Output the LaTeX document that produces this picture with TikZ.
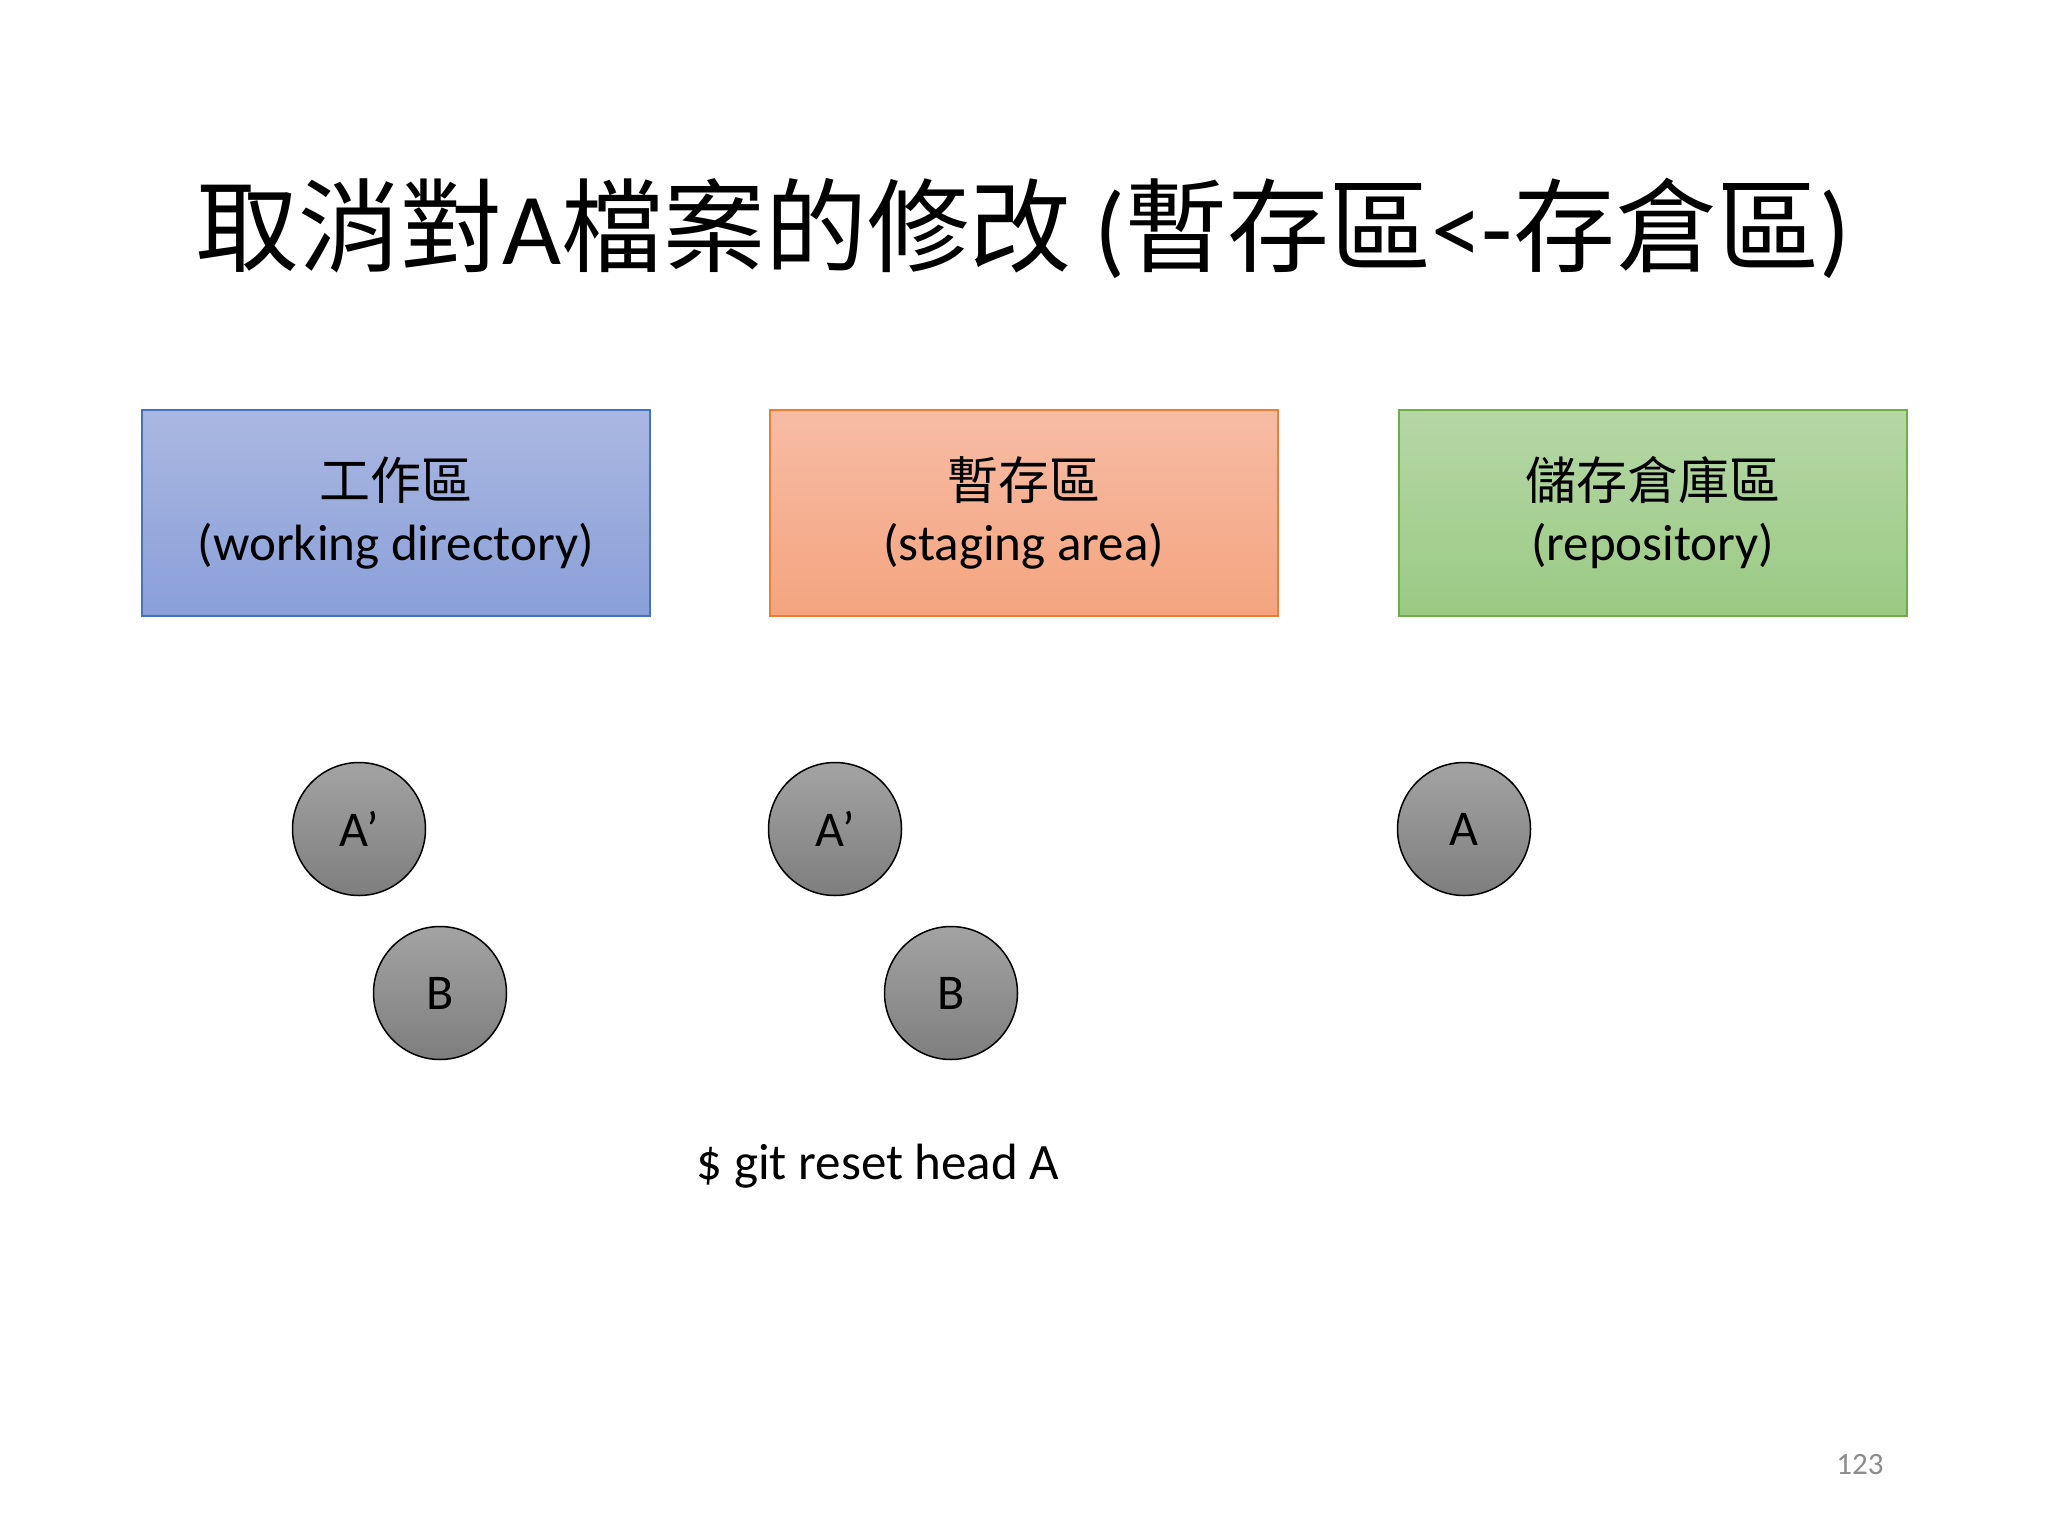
\documentclass[tikz,border=0pt]{standalone}
\usepackage{fontspec}
\setmainfont{Carlito}
\newfontfamily\cjk{Noto Sans CJK TC}
\definecolor{wdtop}{HTML}{AAB7E1}
\definecolor{wdbot}{HTML}{8AA0D9}
\definecolor{wdline}{HTML}{4472C4}
\definecolor{sttop}{HTML}{F7BCA5}
\definecolor{stbot}{HTML}{F4A47F}
\definecolor{stline}{HTML}{ED7D31}
\definecolor{rptop}{HTML}{B5D7A6}
\definecolor{rpbot}{HTML}{9BCA84}
\definecolor{rpline}{HTML}{70AD47}
\definecolor{ctop}{HTML}{A3A3A3}
\definecolor{cbot}{HTML}{7E7E7E}
\definecolor{pgnum}{HTML}{8C8C8C}
\tikzset{
  area/.style={draw, line width=1.5pt, minimum width=508pt, minimum height=206pt,
    anchor=north west, align=center, inner sep=0pt,
    font=\fontsize{51}{61}\selectfont},
  file/.style={circle, draw=black, line width=1.5pt, minimum size=133pt, inner sep=0pt,
    top color=ctop, bottom color=cbot, font=\fontsize{50}{60}\selectfont}
}
\begin{document}
\begin{tikzpicture}[x=1pt,y=-1pt]
\useasboundingbox[fill=white] (0,0) rectangle (2048,1536);
\node[anchor=base, font=\fontsize{102}{122}\selectfont] (title) at (1023,264)
  {{\cjk 取消對}A{\cjk 檔案的修改} ({\cjk 暫存區}<-{\cjk 存倉區})};
\node[area, draw=wdline, top color=wdtop, bottom color=wdbot] (wd) at (141,409)
  {{\cjk 工作區}\\(working directory)};
\node[area, draw=stline, top color=sttop, bottom color=stbot] (st) at (769,409)
  {{\cjk 暫存區}\\(staging area)};
\node[area, draw=rpline, top color=rptop, bottom color=rpbot] (rp) at (1398,409)
  {{\cjk 儲存倉庫區}\\(repository)};
\node[file] (wdA) at (359,829) {A’};
\node[file] (wdB) at (440,993) {B};
\node[file] (stA) at (835,829) {A’};
\node[file] (stB) at (951,993) {B};
\node[file] (rpA) at (1464,829) {A};
\node[font=\fontsize{51}{61}\selectfont] (cmd) at (878,1166) {\$ git reset head A};
\node[font=\fontsize{31}{37}\selectfont, text=pgnum] (pg) at (1860,1465) {123};
\end{tikzpicture}
\end{document}
